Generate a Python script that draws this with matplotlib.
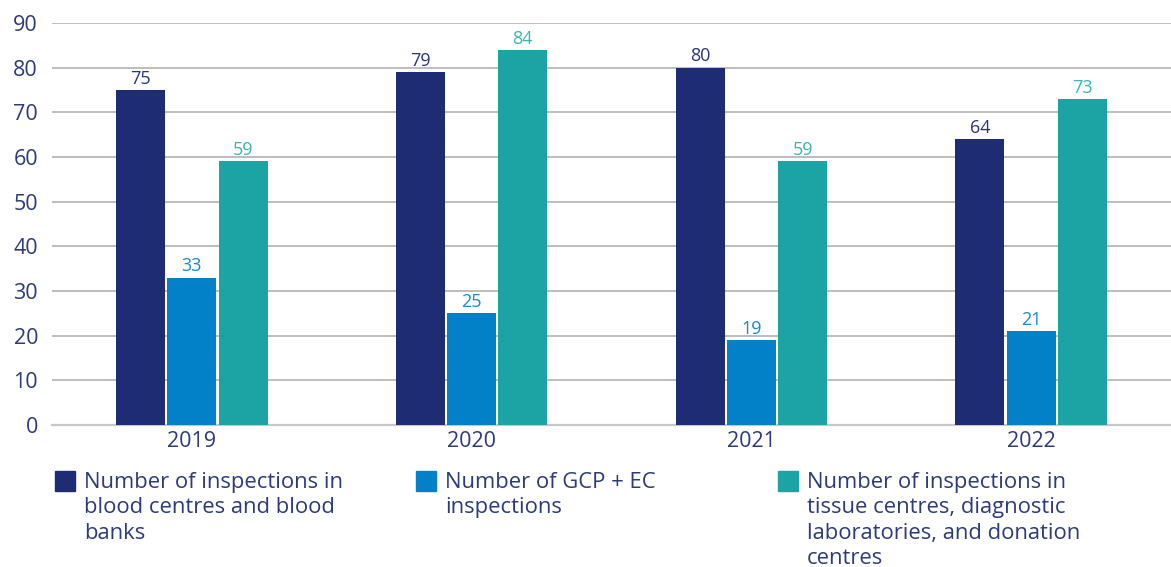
import matplotlib
matplotlib.use("Agg")
import matplotlib.pyplot as plt
from matplotlib.patches import Rectangle
import numpy as np

years = ["2019", "2020", "2021", "2022"]
blood_centres = [75, 79, 80, 64]
gcp_ec = [33, 25, 19, 21]
tissue_centres = [59, 84, 59, 73]

series_labels = [
    "Number of inspections in\nblood centres and blood\nbanks",
    "Number of GCP + EC\ninspections",
    "Number of inspections in\ntissue centres, diagnostic\nlaboratories, and donation\ncentres",
]
yticks = [0, 10, 20, 30, 40, 50, 60, 70, 80, 90]

bar_colors = ["#1e2d73", "#0280c8", "#1ca3a4"]
label_colors = ["#2b3676", "#1a8acb", "#3ab5b1"]
text_color = "#2d3a7c"

plt.rcParams["font.family"] = ["Open Sans", "DejaVu Sans"]

fig = plt.figure(figsize=(11.71, 5.67), dpi=100)
ax = fig.add_axes([52 / 1171, 1 - 425 / 567, 1 - 52 / 1171, (425 - 23) / 567])

x = np.arange(len(years))
width = 0.175
step = 0.183
for i, vals in enumerate([blood_centres, gcp_ec, tissue_centres]):
    pos = x + (i - 1) * step
    ax.bar(pos, vals, width=width, color=bar_colors[i], zorder=3)
    for p, v in zip(pos, vals):
        ax.text(p, v + 0.5, str(v), ha="center", va="bottom",
                fontsize=13, color=label_colors[i], zorder=4)

ax.set_xlim(-0.5, 3.5)
ax.set_ylim(0, 90)
ax.set_yticks(yticks)
ax.set_yticklabels([str(t) for t in yticks])
ax.set_xticks(x)
ax.set_xticklabels(years)
ax.tick_params(axis="y", length=0, pad=10, labelsize=15.5, labelcolor=text_color)
ax.tick_params(axis="x", length=0, pad=4, labelsize=15.5, labelcolor=text_color)
ax.grid(axis="y", color="#b8b8b8", linewidth=1.3, zorder=0)
for s in ["top", "right", "left"]:
    ax.spines[s].set_visible(False)
ax.spines["bottom"].set_color("#c8c8c8")
ax.spines["bottom"].set_linewidth(1.6)

# legend drawn as figure-level patches and text
W, H = 1171, 567
legend_x = [55, 416, 778]
for i, lx in enumerate(legend_x):
    fig.add_artist(Rectangle((lx / W, 1 - 491 / H), 20 / W, 20 / H,
                             transform=fig.transFigure, color=bar_colors[i]))
    fig.text((lx + 29) / W, 1 - 472 / H, series_labels[i], ha="left", va="top",
             fontsize=15.8, color=text_color, linespacing=1.27)

fig.savefig("out.png", dpi=100)
